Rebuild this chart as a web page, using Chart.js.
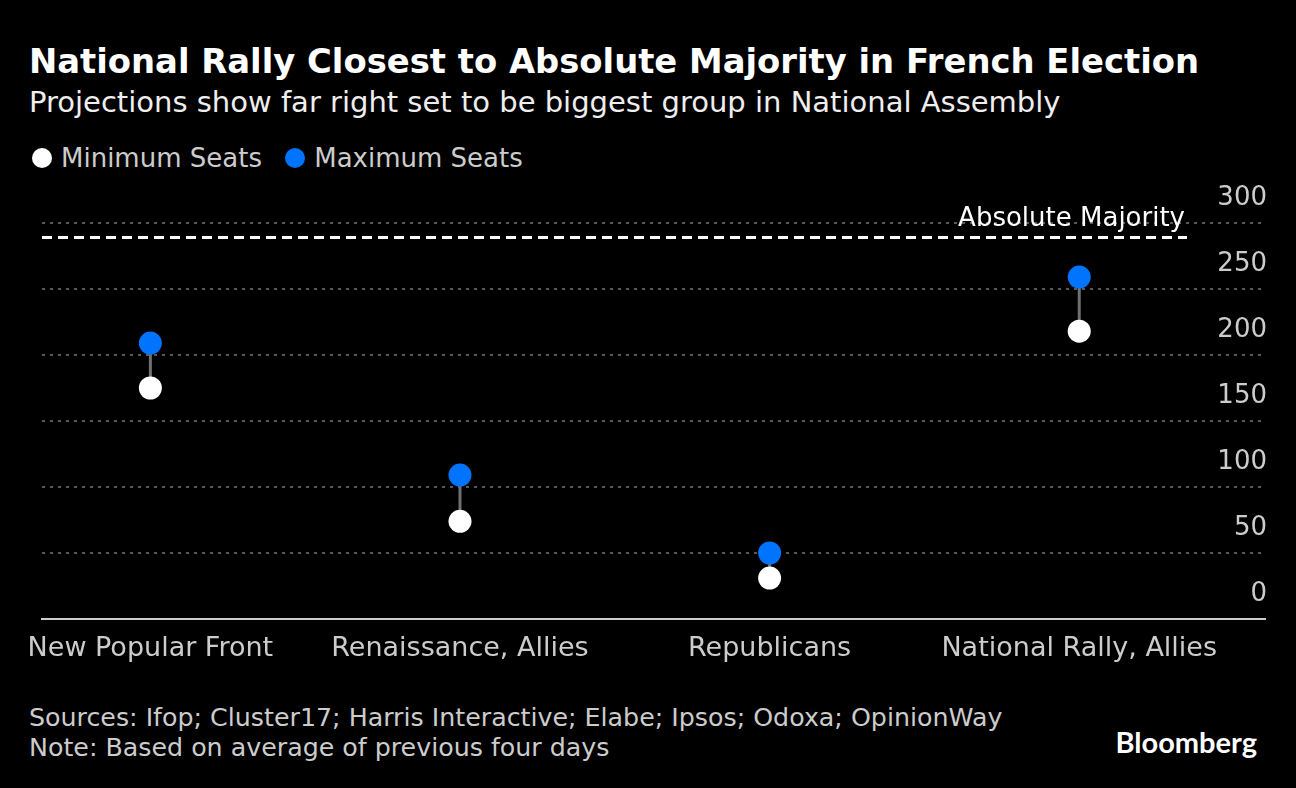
<!DOCTYPE html>
<html>
<head>
<meta charset="utf-8">
<script src="https://cdn.jsdelivr.net/npm/chart.js@4"></script>
<style>
  html, body { margin: 0; padding: 0; background: #000; }
  body { width: 1296px; height: 788px; position: relative; overflow: hidden; font-family: "DejaVu Sans", sans-serif; }
  .title { position: absolute; left: 29px; top: 42px; color: #fff; font-size: 33.8px; font-weight: bold; white-space: nowrap; }
  .subtitle { position: absolute; left: 29px; top: 85px; color: #eee; font-size: 29px; white-space: nowrap; }
  .legend { position: absolute; left: 32px; top: 143px; color: #ccc; font-size: 26px; white-space: nowrap; }
  .legend span.dot { display: inline-block; width: 20px; height: 20px; border-radius: 50%; vertical-align: -1px; margin-right: 9px; }
  .legend span.item { margin-right: 15px; }
  #wrap { position: absolute; left: 0; top: 180px; width: 1296px; height: 500px; }
  .footer { position: absolute; left: 29px; top: 703px; color: #ccc; font-size: 25.3px; line-height: 30px; white-space: nowrap; }
  .logo { position: absolute; right: 39px; top: 724px; color: #fff; font-family: Lato, "Open Sans", sans-serif; font-weight: bold; font-size: 29px; }
</style>
</head>
<body>
<div class="title">National Rally Closest to Absolute Majority in French Election</div>
<div class="subtitle">Projections show far right set to be biggest group in National Assembly</div>
<div class="legend">
  <span class="item"><span class="dot" style="background:#fff"></span>Minimum Seats</span>
  <span class="item"><span class="dot" style="background:#0073ff"></span>Maximum Seats</span>
</div>
<div id="wrap"><canvas id="grafica"></canvas></div>
<div class="footer">Sources: Ifop; Cluster17; Harris Interactive; Elabe; Ipsos; Odoxa; OpinionWay<br>Note: Based on average of previous four days</div>
<div class="logo">Bloomberg</div>

<script>
// datos
const partidos = ["New Popular Front", "Renaissance, Allies", "Republicans", "National Rally, Allies"];
const minSeats = [175, 74, 31, 218];
const maxSeats = [209, 109, 50, 259];
const yTicks = [0, 50, 100, 150, 200, 250, 300];
const majoritySeats = 289;
const majorityLabel = "Absolute Majority";

const blue = "#0073ff";
const fuente = "'DejaVu Sans', sans-serif";

// lineas entre minimo y maximo
const conectores = {
  id: "conectores",
  beforeDatasetsDraw(chart) {
    const { ctx, scales: { x, y } } = chart;
    ctx.save();
    ctx.strokeStyle = "#707070";
    ctx.lineWidth = 3;
    partidos.forEach((p, i) => {
      const px = x.getPixelForValue(i);
      ctx.beginPath();
      ctx.moveTo(px, y.getPixelForValue(minSeats[i]));
      ctx.lineTo(px, y.getPixelForValue(maxSeats[i]));
      ctx.stroke();
    });
    ctx.restore();
  },
};

// linea de mayoria absoluta
const mayoria = {
  id: "mayoria",
  beforeDatasetsDraw(chart) {
    const { ctx, chartArea, scales: { y } } = chart;
    const py = y.getPixelForValue(majoritySeats);
    const fin = chartArea.right - 78;
    ctx.save();
    ctx.strokeStyle = "#fff";
    ctx.lineWidth = 3;
    ctx.setLineDash([10, 6]);
    ctx.beginPath();
    ctx.moveTo(chartArea.left, py);
    ctx.lineTo(fin, py);
    ctx.stroke();
    ctx.setLineDash([]);
    ctx.font = "26px " + fuente;
    ctx.fillStyle = "#fff";
    ctx.textAlign = "right";
    ctx.textBaseline = "middle";
    ctx.fillText(majorityLabel, fin - 2, py - 18);
    ctx.restore();
  },
};

const ctx = document.getElementById("grafica");
new Chart(ctx, {
  type: "line",
  data: {
    datasets: [
      {
        label: "Minimum Seats",
        data: minSeats.map((v, i) => ({ x: i, y: v })),
        showLine: false,
        pointRadius: 11.5,
        pointHoverRadius: 11.5,
        pointBackgroundColor: "#fff",
        pointBorderWidth: 0,
      },
      {
        label: "Maximum Seats",
        data: maxSeats.map((v, i) => ({ x: i, y: v })),
        showLine: false,
        pointRadius: 11.5,
        pointHoverRadius: 11.5,
        pointBackgroundColor: blue,
        pointBorderWidth: 0,
      },
    ],
  },
  options: {
    responsive: true,
    maintainAspectRatio: false,
    animation: false,
    layout: { padding: { top: 43, left: 42, right: 27, bottom: 0 } },
    plugins: {
      legend: { display: false },
      tooltip: { enabled: false },
    },
    scales: {
      x: {
        type: "linear",
        min: -0.35,
        max: 3.6,
        afterBuildTicks: (axis) => {
          axis.ticks = partidos.map((p, i) => ({ value: i }));
        },
        afterFit: (axis) => {
          axis.height = 61;
        },
        ticks: {
          autoSkip: false,
          maxRotation: 0,
          padding: 14,
          color: "#ccc",
          font: { family: fuente, size: 27 },
          callback: (v) => partidos[v],
        },
        grid: { display: false, drawTicks: false },
        border: { display: true, color: "#ccc", width: 2 },
      },
      y: {
        position: "right",
        min: 0,
        max: 300,
        afterBuildTicks: (axis) => {
          axis.ticks = yTicks.map((v) => ({ value: v }));
        },
        ticks: {
          mirror: true,
          padding: 2,
          labelOffset: -25,
          color: "#ccc",
          font: { family: fuente, size: 26 },
        },
        grid: {
          drawTicks: false,
          color: (c) => (c.tick && c.tick.value === 0 ? "rgba(0,0,0,0)" : "#5a5a5a"),
          lineWidth: 2,
        },
        border: { display: false, dash: [3, 5] },
      },
    },
  },
  plugins: [conectores, mayoria],
});
</script>
</body>
</html>
